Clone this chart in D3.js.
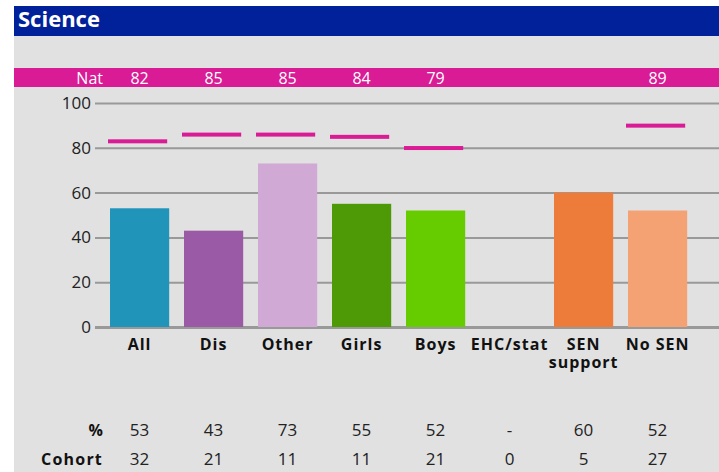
<!DOCTYPE html>
<html><head><meta charset="utf-8">
<script src="https://cdn.jsdelivr.net/npm/d3@7"></script>
<style>
html,body{margin:0;padding:0;background:#fff;}
svg{display:block;font-family:"Open Sans","Noto Sans",sans-serif;}
</style></head>
<body>
<script>
const title = "Science";
const categories = ["All","Dis","Other","Girls","Boys","EHC/stat","SEN support","No SEN"];
const values = [53,43,73,55,52,null,60,52];
const natValues = [82,85,85,84,79,null,null,89];
const pctLabels = ["53","43","73","55","52","-","60","52"];
const cohort = ["32","21","11","11","21","0","5","27"];
const colors = ["#2194b9","#9b5aa5","#d0aad4","#4e9a06","#66cc00","#888888","#ed7c3a","#f4a174"];
const yTicks = [0,20,40,60,80,100];

const W = 719, H = 472;
const svg = d3.select("body").append("svg").attr("width", W).attr("height", H);

// background panel
svg.append("rect").attr("x",14).attr("y",6).attr("width",W-14).attr("height",H-6).attr("fill","#e1e1e1");
svg.append("rect").attr("x",14).attr("y",6).attr("width",W-14).attr("height",30).attr("fill","#00219a");
svg.append("text").attr("x",18).attr("y",26.5).attr("fill","#fff").attr("font-size",22).attr("font-weight","bold").text(title);

const x = d3.scaleBand().domain(categories).range([102.6, 694.6]).paddingInner(0.2).paddingOuter(0.1);
const y = d3.scaleLinear().domain([0,100]).range([327,103]);

// Nat band
svg.append("rect").attr("x",14).attr("y",68).attr("width",W-14).attr("height",19).attr("fill","#d91b96");
svg.append("text").attr("x",103).attr("y",83.5).attr("text-anchor","end").attr("fill","#fff").attr("font-size",16).text("Nat");
svg.append("g").selectAll("text").data(categories).join("text")
  .attr("x", d => x(d) + x.bandwidth()/2).attr("y",83.5).attr("text-anchor","middle")
  .attr("fill","#fff").attr("font-size",16)
  .text((d,i) => natValues[i] == null ? "" : natValues[i]);

// y axis
const yAxis = d3.axisLeft(y).tickValues(yTicks).tickSize(-(W-95)).tickPadding(4);
const ga = svg.append("g").attr("transform","translate(95,0)").call(yAxis);
ga.select(".domain").remove();
ga.selectAll(".tick line").attr("stroke","#999").attr("stroke-width",d => d===0?3:2);
ga.selectAll(".tick text").attr("font-size",17).attr("fill","#222").attr("font-family","Open Sans, Noto Sans, sans-serif").attr("x",-4);

// bars
svg.append("g").selectAll("rect").data(categories).join("rect")
  .filter((d,i) => values[i] != null)
  .attr("x", d => x(d)).attr("width", x.bandwidth())
  .attr("y", d => y(values[categories.indexOf(d)]))
  .attr("height", d => y(0) - y(values[categories.indexOf(d)]))
  .attr("fill", d => colors[categories.indexOf(d)]);

// nat lines
svg.append("g").selectAll("rect").data(categories.filter((d,i)=>natValues[i]!=null)).join("rect")
  .attr("x", d => x(d) - 2).attr("width", x.bandwidth())
  .attr("y", d => y(natValues[categories.indexOf(d)]) - 4).attr("height", 4)
  .attr("fill","#d91b96");

// category labels
const cl = svg.append("g").selectAll("text").data(categories).join("text")
  .attr("x", d => x(d) + x.bandwidth()/2).attr("y",350).attr("text-anchor","middle")
  .attr("font-size",16).attr("font-weight","bold").attr("letter-spacing","1px").attr("fill","#111");
cl.each(function(d){
  const words = d === "SEN support" ? ["SEN","support"] : [d];
  const t = d3.select(this);
  words.forEach((w,k) => t.append("tspan").attr("x", x(d)+x.bandwidth()/2).attr("dy", k===0?0:18).text(w));
});

// rows
svg.append("text").attr("x",103).attr("y",436).attr("text-anchor","end").attr("font-size",16).attr("font-weight","bold").attr("fill","#111").text("%");
svg.append("text").attr("x",103).attr("y",465).attr("text-anchor","end").attr("font-size",16).attr("font-weight","bold").attr("letter-spacing","1.2px").attr("fill","#111").text("Cohort");
svg.append("g").selectAll("text").data(categories).join("text")
  .attr("x", d => x(d) + x.bandwidth()/2).attr("y",436).attr("text-anchor","middle")
  .attr("font-size",17).attr("fill","#222").text((d,i)=>pctLabels[i]);
svg.append("g").selectAll("text").data(categories).join("text")
  .attr("x", d => x(d) + x.bandwidth()/2).attr("y",465).attr("text-anchor","middle")
  .attr("font-size",17).attr("fill","#222").text((d,i)=>cohort[i]);
</script>
</body></html>
